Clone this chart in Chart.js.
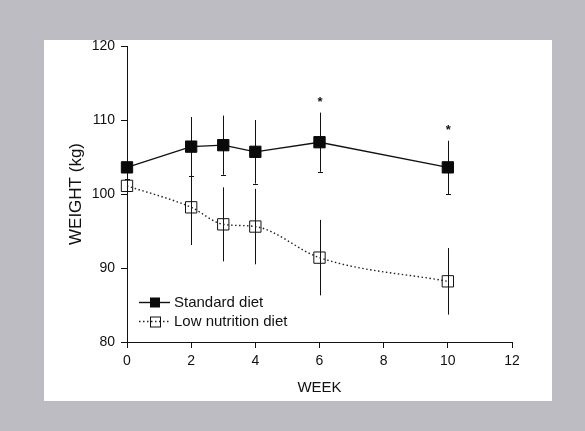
<!DOCTYPE html>
<html>
<head>
<meta charset="utf-8">
<script src="https://cdn.jsdelivr.net/npm/chart.js@4/dist/chart.umd.min.js"></script>
<style>
  html, body { margin: 0; padding: 0; background: #bdbcc3; }
  #wrap { width: 585px; height: 431px; position: relative; }
</style>
</head>
<body>
<div id="wrap"><canvas id="c" width="585" height="431"></canvas></div>
<script>
// Body weight by week for two diet groups (mean ± SD)
const weeks = [0, 2, 3, 4, 6, 10];
const standardDiet = [103.6, 106.4, 106.6, 105.7, 107.0, 103.6];
const standardErr = [1.6, 4.0, 4.0, 4.3, 4.0, 3.6];
const lowNutritionDiet = [101.1, 98.2, 95.9, 95.6, 91.4, 88.2];
const lowNutritionErr = [0.9, 5.1, 5.0, 5.1, 5.1, 4.5];
const significantWeeks = [6, 10];
const xTicks = [0, 2, 4, 6, 8, 10, 12];
const yTicks = [80, 90, 100, 110, 120];
const seriesLabels = ['Standard diet', 'Low nutrition diet'];

const FONT = '"Liberation Sans", Arial, Helvetica, sans-serif';
const INK = '#111111';

// Gray mount with a white panel behind the plot
const panelPlugin = {
  id: 'panel',
  beforeDraw(chart) {
    const ctx = chart.ctx;
    ctx.save();
    ctx.fillStyle = '#bdbcc3';
    ctx.fillRect(0, 0, chart.width, chart.height);
    ctx.fillStyle = '#ffffff';
    ctx.fillRect(44, 40, 508, 361);
    ctx.restore();
  }
};

// Vertical error bars and significance asterisks
const errorBarPlugin = {
  id: 'errorBars',
  beforeDatasetsDraw(chart) {
    const ctx = chart.ctx;
    const xs = chart.scales.x, ys = chart.scales.y;
    const sets = [
      { vals: standardDiet, errs: standardErr, cap: true },
      { vals: lowNutritionDiet, errs: lowNutritionErr, cap: false }
    ];
    ctx.save();
    ctx.strokeStyle = INK;
    ctx.lineWidth = 1;
    sets.forEach(s => {
      weeks.forEach((w, i) => {
        const x = Math.round(xs.getPixelForValue(w)) + 0.5;
        const yTop = ys.getPixelForValue(s.vals[i] + s.errs[i]);
        const yBot = ys.getPixelForValue(s.vals[i] - s.errs[i]);
        ctx.beginPath();
        ctx.moveTo(x, yTop);
        ctx.lineTo(x, yBot);
        if (s.cap) {
          ctx.moveTo(x - 2.5, Math.round(yBot) + 0.5);
          ctx.lineTo(x + 2.5, Math.round(yBot) + 0.5);
        }
        ctx.stroke();
      });
    });
    ctx.fillStyle = INK;
    ctx.font = 'bold 13px ' + FONT;
    ctx.textAlign = 'center';
    ctx.textBaseline = 'middle';
    significantWeeks.forEach(w => {
      const i = weeks.indexOf(w);
      const x = xs.getPixelForValue(w);
      const y = ys.getPixelForValue(standardDiet[i] + standardErr[i]) - 13;
      ctx.fillText('*', x + 0.5, y + 3);
    });
    ctx.restore();
  }
};

// Legend drawn inside the plot area, lower left
const innerLegendPlugin = {
  id: 'innerLegend',
  afterDraw(chart) {
    const ctx = chart.ctx;
    const area = chart.chartArea;
    const x0 = area.left + 12, x1 = area.left + 43, xm = area.left + 28;
    const rows = [area.bottom - 40, area.bottom - 21];
    ctx.save();
    chart.data.datasets.forEach((ds, i) => {
      const y = rows[i] + 0.5;
      ctx.strokeStyle = ds.borderColor;
      ctx.lineWidth = ds.borderWidth;
      ctx.setLineDash(ds.borderDash || []);
      ctx.beginPath();
      ctx.moveTo(x0, y);
      ctx.lineTo(x1, y);
      ctx.stroke();
      ctx.setLineDash([]);
      const half = 5;
      if (ds.pointBackgroundColor !== 'rgba(0,0,0,0)') {
        ctx.fillStyle = ds.pointBackgroundColor;
        ctx.fillRect(xm - half, y - half, half * 2, half * 2);
      } else {
        ctx.strokeStyle = ds.pointBorderColor;
        ctx.lineWidth = 1;
        ctx.strokeRect(Math.round(xm - half) + 0.5, Math.round(y - half), half * 2, half * 2);
      }
      ctx.fillStyle = INK;
      ctx.font = '15px ' + FONT;
      ctx.textAlign = 'left';
      ctx.textBaseline = 'middle';
      ctx.fillText(ds.label, area.left + 47, y);
    });
    ctx.restore();
  }
};

new Chart(document.getElementById('c'), {
  type: 'line',
  data: {
    datasets: [
      {
        label: seriesLabels[0],
        data: weeks.map((w, i) => ({ x: w, y: standardDiet[i] })),
        borderColor: '#111111',
        borderWidth: 1.4,
        pointStyle: 'rect',
        pointRadius: 8,
        pointBackgroundColor: '#0a0a0a',
        pointBorderColor: '#0a0a0a',
        pointBorderWidth: 1,
        tension: 0,
        clip: false
      },
      {
        label: seriesLabels[1],
        data: weeks.map((w, i) => ({ x: w, y: lowNutritionDiet[i] })),
        borderColor: '#222222',
        borderWidth: 1.4,
        borderDash: [1.5, 2.5],
        pointStyle: 'rect',
        pointRadius: 8,
        pointBackgroundColor: 'rgba(0,0,0,0)',
        pointBorderColor: '#111111',
        pointBorderWidth: 1,
        cubicInterpolationMode: 'monotone',
        clip: false
      }
    ]
  },
  options: {
    responsive: false,
    animation: false,
    events: [],
    layout: { padding: { left: 0, right: 73, top: 46, bottom: 30 } },
    plugins: { legend: { display: false }, tooltip: { enabled: false } },
    scales: {
      x: {
        type: 'linear',
        min: 0, max: 12,
        afterBuildTicks(scale) { scale.ticks = xTicks.map(v => ({ value: v })); },
        afterFit(scale) { scale.height = 59; },
        grid: { drawOnChartArea: false, drawTicks: true, tickLength: 6, color: INK, tickColor: INK },
        border: { display: true, color: INK, width: 1 },
        ticks: { color: INK, font: { family: FONT, size: 14 }, padding: 5, maxRotation: 0 },
        title: { display: true, text: 'WEEK', color: INK, font: { family: FONT, size: 15 }, padding: { top: 0, bottom: 4 } }
      },
      y: {
        type: 'linear',
        min: 80, max: 120,
        afterBuildTicks(scale) { scale.ticks = yTicks.map(v => ({ value: v })); },
        afterFit(scale) { scale.width = 127; },
        grid: { drawOnChartArea: false, drawTicks: true, tickLength: 6, color: INK, tickColor: INK },
        border: { display: true, color: INK, width: 1 },
        ticks: { color: INK, font: { family: FONT, size: 14 }, padding: 6 },
        title: { display: true, text: 'WEIGHT (kg)', color: INK, font: { family: FONT, size: 17 }, padding: { top: 66, bottom: 0 } }
      }
    }
  },
  plugins: [panelPlugin, errorBarPlugin, innerLegendPlugin]
});
</script>
</body>
</html>
